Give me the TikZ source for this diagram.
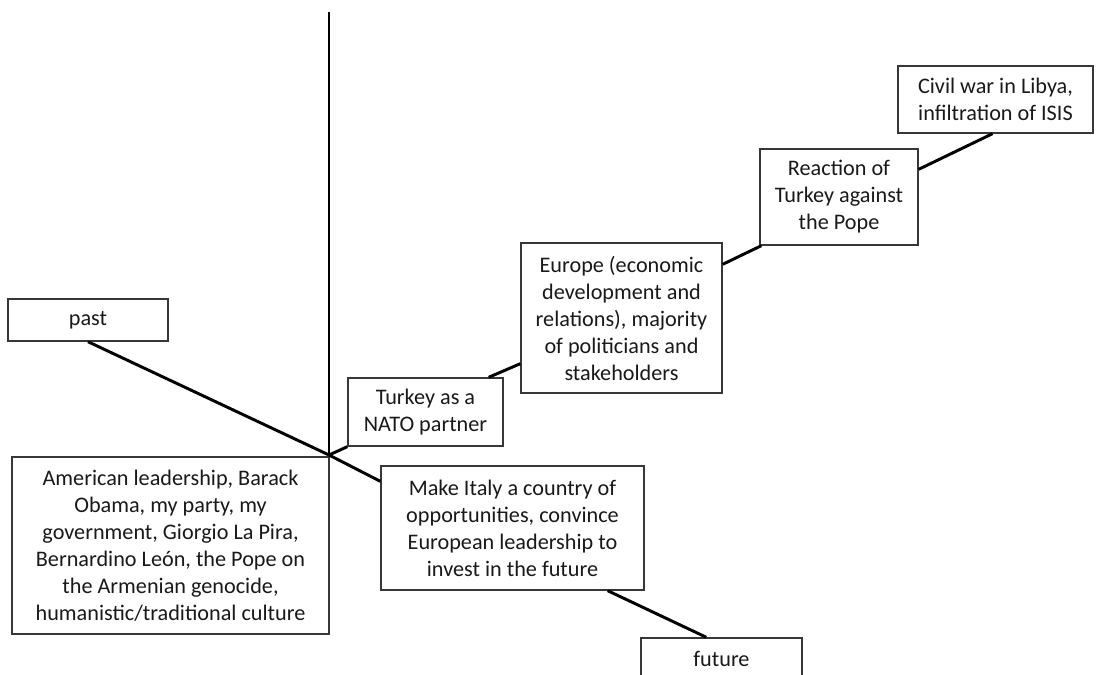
\documentclass[tikz,border=0pt]{standalone}
\usepackage{fontspec}
\setmainfont{Carlito}
\usepackage{xcolor}
\definecolor{edge}{RGB}{55,55,55}
\definecolor{ink}{RGB}{25,25,25}
\usetikzlibrary{calc}
\tikzset{
  box/.style={draw=edge,line width=1pt,fill=white,text=ink,inner sep=0pt,%
    align=center,font=\fontsize{15.8}{19.2}\selectfont},
  boxsize/.style 2 args={minimum width=#1*0.025cm,minimum height=#2*0.025cm},
  link/.style={line width=2.1pt,draw=black},
}

\begin{document}
\begin{tikzpicture}[x=0.025cm,y=-0.025cm]
\clip (0,0) rectangle (1096,675);
\coordinate (top) at (329,12);
\coordinate (o) at (329,455);
\node[box,boxsize={160}{42}] (past) at (88,320) {past};
\node[box,boxsize={317}{177}] (amer) at (170.5,545.5)
  {American leadership, Barack\\Obama, my party, my\\government, Giorgio La Pira,\\
   Bernardino León, the Pope on\\the Armenian genocide,\\humanistic/traditional culture};
\node[box,boxsize={155}{68}] (nato) at (425.5,412)
  {Turkey as a\\NATO partner};
\node[box,boxsize={201}{150}] (europe) at (621.5,318)
  {Europe (economic\\development and\\relations), majority\\of politicians and\\stakeholders};
\node[box,boxsize={158}{96}] (turkey) at (839,197)
  {Reaction of\\Turkey against\\the Pope};
\node[box,boxsize={195}{67}] (libya) at (995.5,99.5)
  {Civil war in Libya,\\infiltration of ISIS};
\node[box,boxsize={263}{124}] (italy) at (512.5,528)
  {Make Italy a country of\\opportunities, convince\\European leadership to\\invest in the future};
\node[box,boxsize={161}{42}] (future) at (721.5,659) {future};

\draw[link] (top) -- (o);
\draw[link] (past.south) -- (o);
\draw[link] (o) -- (nato.south west);
\draw[link] ($(nato.north east)+(-15,0)$) -- ($(europe.south west)+(0,-30)$);
\draw[link] ($(europe.north east)+(0,22)$) -- ($(turkey.south west)+(2,0)$);
\draw[link] ($(turkey.north east)+(0,21)$) -- ($(libya.south)+(-3,0)$);
\draw[link] (o) -- ($(italy.north west)+(0,16)$);
\draw[link] ($(italy.south east)+(-37,0)$) -- ($(future.north west)+(66,0)$);
\end{tikzpicture}
\end{document}
